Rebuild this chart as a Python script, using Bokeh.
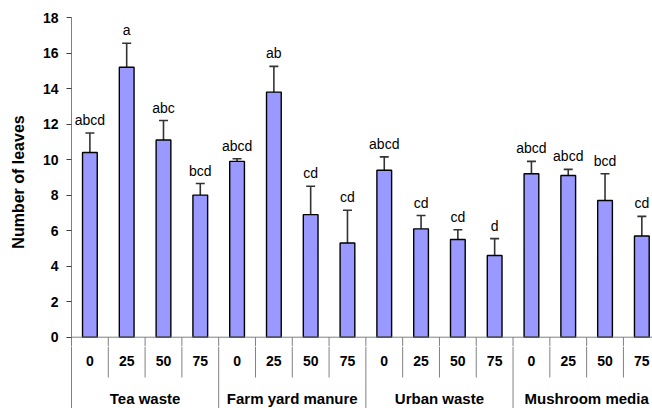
from bokeh.plotting import figure
from bokeh.layouts import column
from bokeh.models import ColumnDataSource, Range1d, FixedTicker, Span, Whisker, TeeHead
from bokeh.core.properties import value
from bokeh.embed import file_html
from bokeh.resources import INLINE

groups = ["Tea waste", "Farm yard manure", "Urban waste", "Mushroom media"]
levels = ["0", "25", "50", "75"]
means = [10.4, 15.2, 11.1, 8.0,
         9.9, 13.8, 6.9, 5.3,
         9.4, 6.1, 5.5, 4.6,
         9.2, 9.1, 7.7, 5.7]
err_top = [11.5, 16.55, 12.2, 8.65,
           10.05, 15.25, 8.5, 7.15,
           10.15, 6.85, 6.05, 5.55,
           9.9, 9.45, 9.2, 6.8]
letters = ["abcd", "a", "abc", "bcd",
           "abcd", "ab", "cd", "cd",
           "abcd", "cd", "cd", "d",
           "abcd", "abcd", "bcd", "cd"]
y_ticks = [0, 2, 4, 6, 8, 10, 12, 14, 16, 18]

FONT = "Liberation Sans"
n = len(means)
xs = [i + 0.5 for i in range(n)]
tick_labels = [levels[i % 4] for i in range(n)]

src = ColumnDataSource(dict(x=xs, m=means, e=err_top, lab=letters, tl=tick_labels))

x_range = Range1d(0, 15.79)
Y0 = -0.524  # frame extends slightly below zero

p = figure(width=652, height=346, x_range=x_range, y_range=Range1d(Y0, 18),
           output_backend="svg", toolbar_location=None,
           min_border_left=71, min_border_right=0, min_border_top=17, min_border_bottom=0)
p.outline_line_color = None
p.grid.visible = False
p.xaxis.visible = False

yax = p.yaxis[0]
yax.ticker = FixedTicker(ticks=y_ticks)
yax.minor_tick_line_color = None
yax.major_tick_out = 5
yax.major_tick_in = 0
yax.major_tick_line_color = "#404040"
yax.axis_line_color = "#808080"
yax.major_label_text_font = FONT
yax.major_label_text_font_style = "bold"
yax.major_label_text_font_size = "14px"
yax.major_label_text_color = "black"
yax.major_label_standoff = 8
yax.axis_label = "Number of leaves"
yax.axis_label_text_font = FONT
yax.axis_label_text_font_style = "bold"
yax.axis_label_text_font_size = "16px"
yax.axis_label_text_color = "black"
yax.axis_label_standoff = 13

p.vbar(x="x", top="m", bottom=0, width=0.4, source=src,
       fill_color="#9999FF", line_color="black", line_width=1.4)

w = Whisker(base="x", upper="e", lower="m", source=src, dimension="height",
            line_color="#333333", line_width=1.6,
            upper_head=TeeHead(size=9, line_color="#333333", line_width=1.6),
            lower_head=None)
p.add_layout(w)

p.text(x="x", y="e", text="lab", source=src, text_align="center",
       text_baseline="alphabetic", y_offset=-13,
       text_font=value(FONT), text_font_size="14px", text_color="black")

p.add_layout(Span(location=0, dimension="width", line_color="#808080", line_width=1))

inner = [i for i in range(1, n + 1) if i % 4 != 0]
outer = [i for i in range(4, n + 1, 4)]
allx = inner + outer
p.segment(x0=allx, y0=[0] * len(allx), x1=allx, y1=[Y0] * len(allx),
          line_color="#808080", line_width=1)

# category table below the chart
H2 = 62
p2 = figure(width=652, height=H2, x_range=x_range, y_range=Range1d(-H2, 0),
            output_backend="svg", toolbar_location=None,
            min_border_left=71, min_border_right=0, min_border_top=0, min_border_bottom=0)
p2.outline_line_color = None
p2.grid.visible = False
p2.xaxis.visible = False
y2 = p2.yaxis[0]
y2.ticker = FixedTicker(ticks=[])
y2.major_tick_out = 0
y2.major_tick_in = 0
y2.minor_tick_line_color = None
y2.major_label_text_font_size = "0px"
y2.axis_line_color = "#808080"

p2.segment(x0=inner, y0=[0] * len(inner), x1=inner, y1=[-31] * len(inner),
           line_color="#808080", line_width=1)
p2.segment(x0=outer, y0=[0] * len(outer), x1=outer, y1=[-H2] * len(outer),
           line_color="#808080", line_width=1)

p2.text(x=xs, y=[-14] * n, text=tick_labels, text_align="center", text_baseline="middle",
        text_font=value(FONT), text_font_style="bold", text_font_size="14px", text_color="black")
gx = [4 * g + 2 for g in range(len(groups))]
p2.text(x=gx, y=[-52] * len(groups), text=groups, text_align="center", text_baseline="middle",
        text_font=value(FONT), text_font_style="bold", text_font_size="15px", text_color="black")

layout = column(p, p2, spacing=0)
open("out.html", "w").write(file_html(layout, INLINE))
